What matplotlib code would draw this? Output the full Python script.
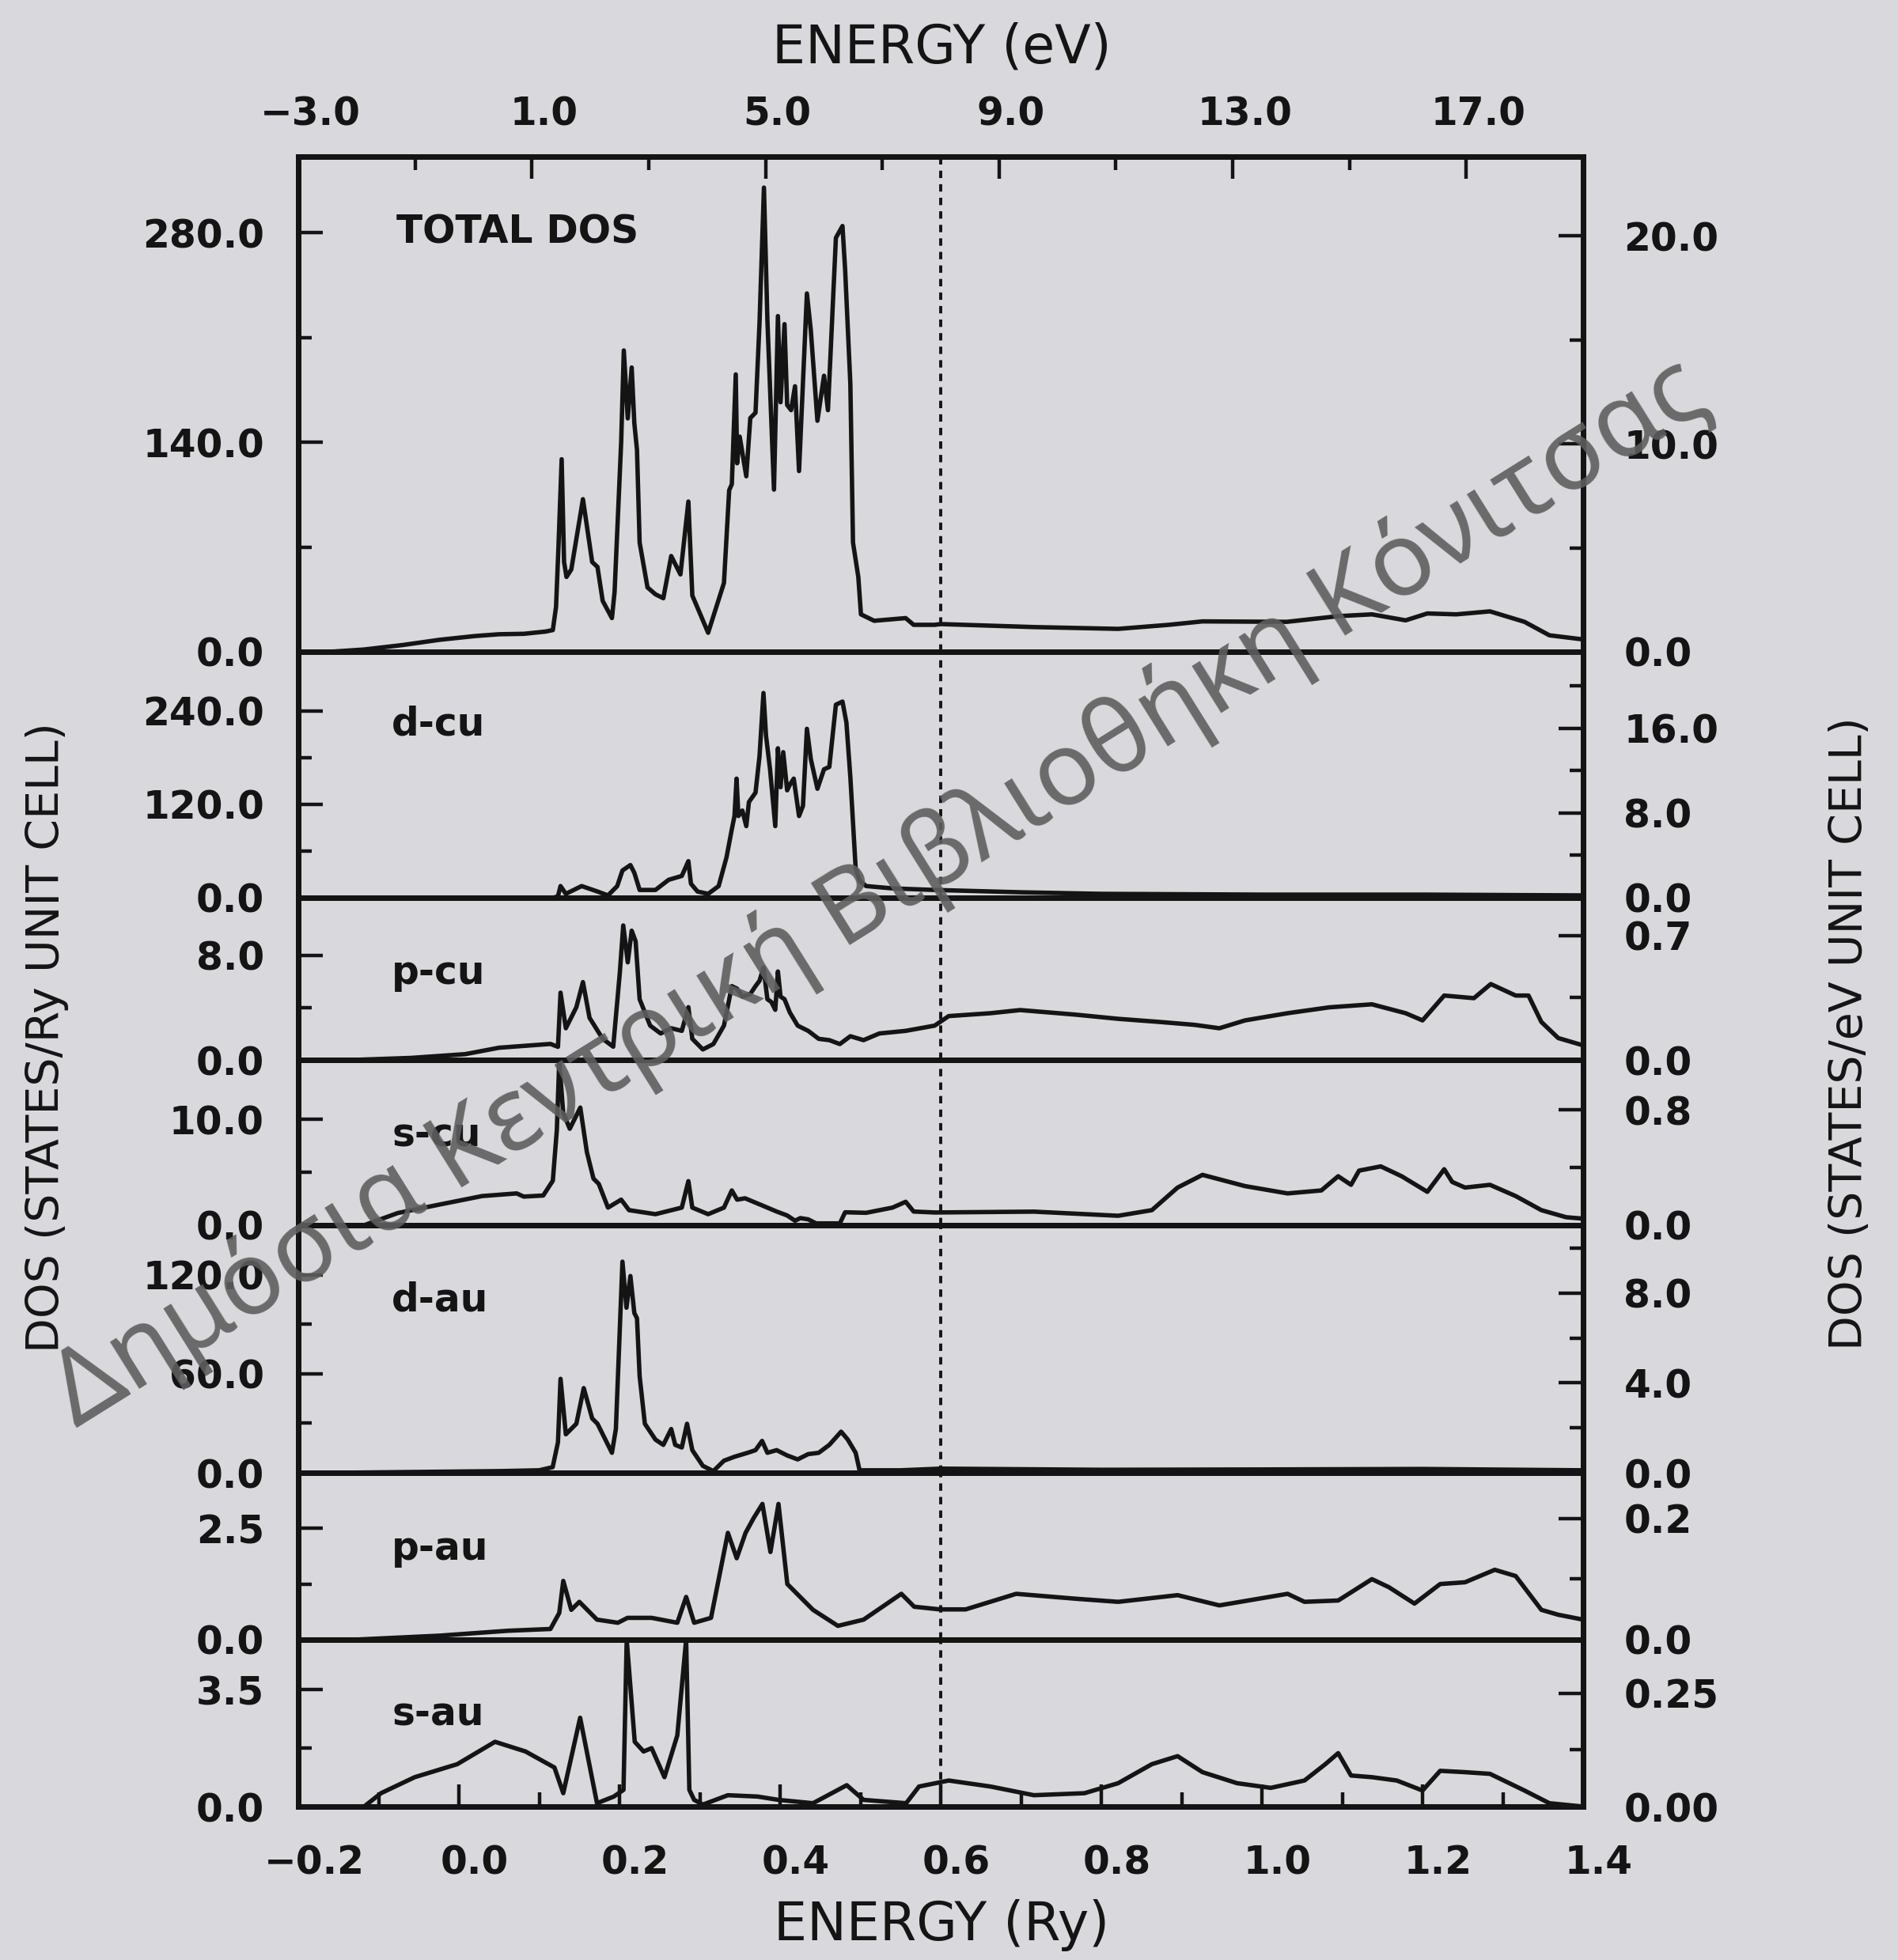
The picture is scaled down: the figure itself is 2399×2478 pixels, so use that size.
import matplotlib
matplotlib.use("Agg")
import matplotlib.pyplot as plt
from matplotlib.transforms import ScaledTranslation
import numpy as np

# ---------------- values (energy in Ry) ----------------
total_ry = [-0.160, -0.118, -0.070, -0.024, 0.020, 0.050, 0.081, 0.108, 0.117, 0.121,
            0.124, 0.128, 0.131, 0.134, 0.140, 0.1545, 0.166, 0.1726, 0.1791, 0.1906,
            0.1939, 0.2021, 0.2054, 0.2103, 0.2152, 0.2185, 0.2218, 0.2251, 0.2349, 0.2448,
            0.2546, 0.2644, 0.2759, 0.2858, 0.2907, 0.3104, 0.3301, 0.3366, 0.3399, 0.3448,
            0.3465, 0.3497, 0.3579, 0.3629, 0.3694, 0.3744, 0.3799, 0.3842, 0.3924, 0.3973,
            0.4006, 0.4055, 0.4088, 0.4137, 0.4186, 0.4236, 0.4334, 0.4383, 0.4465, 0.4547,
            0.4596, 0.4695, 0.4777, 0.4810, 0.4875, 0.4908, 0.4974, 0.5007, 0.5171, 0.5564,
            0.5663, 0.5925, 0.600, 0.716, 0.821, 0.884, 0.926, 1.031, 1.095, 1.137,
            1.179, 1.206, 1.242, 1.284, 1.327, 1.358, 1.396]
total_dos = [0.0, 1.5, 4.5, 8.0, 10.5, 11.7, 12.0, 13.5, 14.5, 30.0,
             70.0, 128.7, 60.0, 50.0, 55.0, 102.0, 60.0, 56.7, 34.0, 22.5,
             40.0, 140.0, 201.4, 156.0, 190.0, 152.7, 135.0, 73.0, 43.0, 38.4,
             35.8, 64.0, 51.7, 100.4, 37.6, 12.7, 46.0, 108.0, 112.0, 185.4,
             126.0, 143.8, 117.3, 156.2, 159.8, 220.0, 310.3, 221.7, 108.4, 224.4,
             166.8, 219.0, 165.0, 161.5, 177.5, 120.8, 239.5, 214.7, 154.4, 184.5,
             161.5, 276.7, 284.6, 255.4, 179.2, 73.0, 50.0, 25.0, 20.7, 22.5,
             18.0, 18.0, 18.5, 16.5, 15.3, 18.0, 20.3, 20.0, 23.8, 25.0,
             21.0, 25.6, 25.0, 27.0, 20.0, 11.0, 8.5]

dcu_ry = [0.118, 0.1234, 0.1266, 0.1332, 0.1529, 0.1726, 0.1857, 0.1972, 0.2037, 0.2136,
          0.2185, 0.2251, 0.2448, 0.2612, 0.2776, 0.2858, 0.2890, 0.2972, 0.3104, 0.3235,
          0.3333, 0.3399, 0.3432, 0.3458, 0.3481, 0.3530, 0.3579, 0.3612, 0.3694, 0.3744,
          0.3793, 0.3825, 0.3875, 0.3940, 0.3973, 0.4006, 0.4039, 0.4088, 0.4121, 0.4170,
          0.4236, 0.4285, 0.4334, 0.4383, 0.4465, 0.4547, 0.4613, 0.4695, 0.4777, 0.4826,
          0.4875, 0.4941, 0.4990, 0.5072, 0.5400, 0.5925, 0.700, 0.800, 1.000, 1.200, 1.400]
dcu_dos = [0.0, 2.0, 15.0, 5.0, 15.0, 8.0, 3.0, 15.0, 35.0, 42.0,
           32.0, 10.0, 10.0, 23.0, 28.0, 47.0, 18.0, 8.0, 5.0, 15.0,
           52.0, 88.0, 105.0, 153.0, 105.0, 112.0, 92.0, 123.0, 135.0, 182.0,
           263.0, 208.0, 165.0, 92.0, 192.0, 142.0, 187.0, 138.0, 145.0, 153.0,
           105.0, 118.0, 217.0, 178.0, 140.0, 165.0, 168.0, 248.0, 252.0, 225.0,
           155.0, 38.0, 22.0, 15.0, 12.0, 10.0, 7.0, 5.0, 4.0, 4.0, 3.0]

pcu_ry = [-0.130, -0.060, 0.008, 0.050, 0.114, 0.1234, 0.1266, 0.1332, 0.1463, 0.1545,
          0.1627, 0.1791, 0.1922, 0.2004, 0.2047, 0.2103, 0.2152, 0.2201, 0.2251, 0.2382,
          0.2513, 0.2644, 0.2776, 0.2858, 0.2907, 0.3038, 0.3169, 0.3301, 0.3399, 0.3465,
          0.3530, 0.3629, 0.3694, 0.3744, 0.3793, 0.3842, 0.3891, 0.3940, 0.3973, 0.4006,
          0.4055, 0.4121, 0.4219, 0.4350, 0.4481, 0.4613, 0.4744, 0.4875, 0.5039, 0.5236,
          0.5564, 0.5925, 0.610, 0.662, 0.699, 0.768, 0.821, 0.873, 0.916, 0.947,
          0.979, 1.032, 1.084, 1.137, 1.179, 1.200, 1.227, 1.264, 1.285, 1.316,
          1.332, 1.348, 1.369, 1.400]
pcu_dos = [0.0, 0.15, 0.44, 0.93, 1.22, 1.0, 5.14, 2.42, 4.03, 5.95,
           3.22, 1.61, 1.01, 6.65, 10.28, 7.46, 9.88, 9.07, 4.64, 2.62,
           2.02, 2.42, 2.22, 4.03, 1.61, 0.80, 1.21, 2.62, 5.64, 5.44,
           4.84, 5.04, 5.64, 6.05, 7.06, 4.64, 4.43, 3.83, 6.76, 4.84,
           4.64, 3.63, 2.62, 2.22, 1.61, 1.51, 1.21, 1.81, 1.51, 2.02,
           2.22, 2.62, 3.35, 3.57, 3.81, 3.46, 3.14, 2.90, 2.68, 2.42,
           3.02, 3.57, 4.02, 4.25, 3.57, 3.02, 4.92, 4.72, 5.80, 4.92,
           4.92, 2.90, 1.67, 1.11]

scu_ry = [-0.118, -0.076, -0.024, 0.029, 0.072, 0.0807, 0.105, 0.117, 0.122, 0.125,
          0.1299, 0.1381, 0.1512, 0.1594, 0.1676, 0.1742, 0.1857, 0.2021, 0.2119, 0.2448,
          0.2776, 0.2858, 0.2907, 0.3104, 0.3301, 0.3399, 0.3465, 0.3563, 0.3760, 0.3957,
          0.4088, 0.4186, 0.4252, 0.4350, 0.4449, 0.4744, 0.4810, 0.5072, 0.5400, 0.5564,
          0.5663, 0.5925, 0.716, 0.821, 0.863, 0.895, 0.926, 0.979, 1.032, 1.074,
          1.095, 1.111, 1.121, 1.148, 1.174, 1.206, 1.227, 1.237, 1.253, 1.284,
          1.316, 1.348, 1.379, 1.400]
scu_dos = [0.0, 1.15, 1.95, 2.75, 3.0, 2.7, 2.8, 4.2, 9.0, 15.5,
           10.6, 9.1, 11.1, 6.9, 4.4, 3.9, 1.66, 2.41, 1.42, 1.04,
           1.66, 4.16, 1.66, 1.04, 1.66, 3.28, 2.41, 2.54, 1.92, 1.29,
           0.92, 0.42, 0.67, 0.55, 0.17, 0.17, 1.22, 1.17, 1.66, 2.21,
           1.29, 1.2, 1.28, 0.89, 1.42, 3.55, 4.75, 3.69, 3.0, 3.28,
           4.62, 3.81, 5.15, 5.55, 4.62, 3.15, 5.28, 4.08, 3.55, 3.81,
           2.75, 1.42, 0.75, 0.62]

dau_ry = [-0.150, -0.050, 0.050, 0.100, 0.1168, 0.1234, 0.1266, 0.1332, 0.1463, 0.1555,
          0.1660, 0.1726, 0.1906, 0.1955, 0.2037, 0.2087, 0.2136, 0.2185, 0.2218, 0.2251,
          0.2316, 0.2448, 0.2546, 0.2644, 0.2694, 0.2776, 0.2841, 0.2907, 0.3038, 0.3169,
          0.3301, 0.3432, 0.3596, 0.3694, 0.3776, 0.3842, 0.3957, 0.4088, 0.4219, 0.4350,
          0.4481, 0.4613, 0.4760, 0.4843, 0.4941, 0.4990, 0.550, 0.600, 0.800, 1.000,
          1.200, 1.400]
dau_dos = [0.0, 0.5, 1.0, 1.5, 3.4, 18.5, 56.9, 23.3, 29.7, 51.3,
           32.9, 29.7, 12.1, 26.5, 127.9, 100.0, 119.2, 96.8, 93.6, 58.5,
           29.7, 20.1, 16.9, 26.5, 16.9, 15.3, 29.7, 13.7, 4.2, 1.0,
           7.3, 9.7, 12.1, 13.7, 19.3, 12.1, 13.7, 10.5, 8.1, 11.3,
           12.1, 16.9, 24.9, 20.1, 12.1, 1.5, 1.5, 2.5, 1.8, 2.0,
           2.3, 1.5]

pau_ry = [-0.130, -0.024, 0.061, 0.114, 0.125, 0.130, 0.140, 0.150, 0.172, 0.198,
          0.210, 0.240, 0.272, 0.283, 0.293, 0.314, 0.335, 0.346, 0.357, 0.367,
          0.378, 0.388, 0.398, 0.409, 0.441, 0.472, 0.504, 0.551, 0.567, 0.599,
          0.631, 0.694, 0.768, 0.821, 0.895, 0.947, 1.032, 1.053, 1.095, 1.137,
          1.158, 1.190, 1.222, 1.253, 1.290, 1.316, 1.348, 1.369, 1.400]
pau_dos = [0.0, 0.09, 0.20, 0.24, 0.60, 1.32, 0.67, 0.85, 0.45, 0.38,
           0.49, 0.49, 0.38, 0.96, 0.38, 0.49, 2.40, 1.83, 2.40, 2.73,
           3.05, 1.97, 3.05, 1.25, 0.67, 0.31, 0.45, 1.03, 0.74, 0.68,
           0.68, 1.03, 0.92, 0.85, 1.00, 0.77, 1.03, 0.85, 0.88, 1.36,
           1.18, 0.81, 1.25, 1.29, 1.57, 1.43, 0.67, 0.56, 0.45]

sau_ry = [-0.118, -0.097, -0.055, -0.002, 0.045, 0.083, 0.119, 0.130, 0.151, 0.172,
          0.193, 0.205, 0.209, 0.219, 0.230, 0.240, 0.256, 0.272, 0.283, 0.287,
          0.293, 0.304, 0.335, 0.372, 0.398, 0.441, 0.483, 0.504, 0.557, 0.573,
          0.610, 0.662, 0.716, 0.779, 0.821, 0.863, 0.895, 0.926, 0.969, 1.011,
          1.053, 1.079, 1.095, 1.111, 1.137, 1.168, 1.200, 1.222, 1.253, 1.284,
          1.327, 1.358, 1.400]
sau_dos = [0.0, 0.40, 0.88, 1.27, 1.94, 1.65, 1.17, 0.40, 2.66, 0.10,
           0.30, 0.50, 5.0, 1.94, 1.65, 1.75, 0.88, 2.13, 5.0, 0.50,
           0.20, 0.06, 0.34, 0.30, 0.20, 0.10, 0.64, 0.20, 0.10, 0.60,
           0.78, 0.60, 0.34, 0.40, 0.70, 1.27, 1.51, 1.03, 0.70, 0.56,
           0.78, 1.27, 1.60, 0.93, 0.88, 0.78, 0.48, 1.07, 1.03, 0.98,
           0.48, 0.10, 0.0]

# labelled ticks: left axis (states/Ry), right axis (states/eV)
total_left, total_right = [0.0, 140.0, 280.0], [0.0, 10.0, 20.0]
dcu_left, dcu_right = [0.0, 120.0, 240.0], [0.0, 8.0, 16.0]
pcu_left, pcu_right = [0.0, 8.0], [0.0, 0.7]
scu_left, scu_right = [0.0, 10.0], [0.0, 0.8]
dau_left, dau_right = [0.0, 60.0, 120.0], [0.0, 4.0, 8.0]
pau_left, pau_right = [0.0, 2.5], [0.0, 0.2]
sau_left, sau_right = [0.0, 3.5], [0.0, 0.25]

ry_ticks = [-0.2, 0.0, 0.2, 0.4, 0.6, 0.8, 1.0, 1.2, 1.4]
ev_ticks = [-3.0, 1.0, 5.0, 9.0, 13.0, 17.0]
e_fermi = 0.6

# ---------------- layout (pixels of the 2399x2478 page) ----------------
W, H = 2399, 2478
X0, X1 = 377, 2001
edges = [198, 824, 1135, 1340, 1549, 1862, 2073, 2284]
INK = "#141414"
PAPER = "#d9d9dd"
TICK_FS = 35
LW_CURVE = 4.0
LW_FRAME = 5.0

# x, y, label, y max, Ry->eV factor of right axis, left ticks, left minor,
# right ticks, right minor, right fmt, label baseline
panels = [
    (total_ry, total_dos, "TOTAL DOS", 331.0, 13.9, total_left, [70, 210], total_right, [5, 15], "%.1f", 308),
    (dcu_ry, dcu_dos, "d-cu", 316.0, 13.6, dcu_left, [60, 180], dcu_right, [4, 12, 20], "%.1f", 929),
    (pcu_ry, pcu_dos, "p-cu", 12.4, 13.6, pcu_left, [4], pcu_right, [0.35], "%.1f", 1244),
    (scu_ry, scu_dos, "s-cu", 15.6, 13.6, scu_left, [5], scu_right, [0.4], "%.1f", 1450),
    (dau_ry, dau_dos, "d-au", 150.0, 13.6, dau_left, [30, 90], dau_right, [2, 6, 10], "%.1f", 1657),
    (pau_ry, pau_dos, "p-au", 3.75, 13.6, pau_left, [1.25], pau_right, [0.1], "%.1f", 1972),
    (sau_ry, sau_dos, "s-au", 5.0, 13.6, sau_left, [1.75], sau_right, [0.125], "%.2f", 2182),
]

plt.rcParams['font.family'] = ['DejaVu Sans']
fig = plt.figure(figsize=(W / 100, H / 100), dpi=100)
fig.patch.set_facecolor(PAPER)


def fmt(v, f="%.1f"):
    # long minus like the plotter font
    return (f % v).replace("-", "\u2212")


def ry2ev(r):
    return (np.asarray(r) + 0.2) * 13.75 - 3.0


def ev2ry(e):
    return (np.asarray(e) + 3.0) / 13.75 - 0.2


def shift_labels(labels, dx_px):
    # the scanned plot sets the energy labels a little right of their ticks
    off = ScaledTranslation(dx_px / 100.0, 0, fig.dpi_scale_trans)
    for lab in labels:
        lab.set_transform(lab.get_transform() + off)


n = len(panels)
for i, (xs, ys, name, ymax, conv, lt, lmin, rt, rmin, rfmt, base) in enumerate(panels):
    top, bot = edges[i], edges[i + 1]
    ax = fig.add_axes([X0 / W, 1 - bot / H, (X1 - X0) / W, (bot - top) / H])
    ax.set_facecolor("none")
    ax.plot(xs, ys, color=INK, lw=LW_CURVE, solid_joinstyle="round")
    ax.axvline(e_fermi, color=INK, lw=2.8, linestyle=(0, (2.4, 2.0)))
    ax.set_xlim(-0.2, 1.4)
    ax.set_ylim(0, ymax)
    for s in ax.spines.values():
        s.set_linewidth(LW_FRAME)
        s.set_color(INK)

    # left axis (states/Ry)
    ax.set_yticks(lt)
    ax.set_yticklabels([fmt(v) for v in lt], fontweight="bold")
    ax.set_yticks(lmin, minor=True)
    ax.tick_params(axis="y", which="major", direction="in", length=22, width=3.2,
                   labelsize=TICK_FS, pad=31, colors=INK)
    ax.tick_params(axis="y", which="minor", direction="in", length=12, width=3.2, colors=INK)

    # right axis (states/eV)
    rax = ax.twinx()
    rax.set_ylim(0, ymax / conv)
    rax.set_yticks(rt)
    rax.set_yticklabels([fmt(v, rfmt) for v in rt], fontweight="bold")
    rax.set_yticks(rmin, minor=True)
    rax.tick_params(axis="y", which="major", direction="in", length=22, width=3.2,
                    labelsize=TICK_FS, pad=37, colors=INK)
    rax.tick_params(axis="y", which="minor", direction="in", length=12, width=3.2, colors=INK)
    for s in rax.spines.values():
        s.set_linewidth(LW_FRAME)
        s.set_color(INK)

    # energy axis only on the outer frame
    if i == n - 1:
        ax.set_xticks(ry_ticks)
        ax.set_xticklabels([fmt(v) for v in ry_ticks], fontweight="bold")
        ax.set_xticks(np.arange(-0.1, 1.35, 0.2), minor=True)
        ax.tick_params(axis="x", which="major", direction="in", length=20, width=3.2,
                       labelsize=TICK_FS, pad=34, colors=INK)
        ax.tick_params(axis="x", which="minor", direction="in", length=13, width=3.2, colors=INK)
        shift_labels(ax.get_xticklabels(), 20)
    else:
        ax.tick_params(axis="x", which="both", bottom=False, labelbottom=False)

    if i == 0:
        sec = ax.secondary_xaxis("top", functions=(ry2ev, ev2ry))
        sec.set_xticks(ev_ticks)
        sec.set_xticklabels([fmt(v) for v in ev_ticks], fontweight="bold")
        sec.set_xticks([-1.0, 3.0, 7.0, 11.0, 15.0], minor=True)
        sec.tick_params(axis="x", which="major", direction="in", length=20, width=3.2,
                        labelsize=TICK_FS, pad=21, colors=INK)
        sec.tick_params(axis="x", which="minor", direction="in", length=12, width=3.2, colors=INK)
        sec.spines["top"].set_linewidth(LW_FRAME)
        shift_labels(sec.get_xticklabels(), 15)

    fig.text((501 if i == 0 else 495) / W, 1 - base / H, name, ha="left", va="baseline",
             fontsize=35, fontweight="bold", color=INK)

# axis titles
fig.text(1190 / W, 1 - 60 / H, "ENERGY (eV)", ha="center", va="center", fontsize=48, color=INK)
fig.text(1190 / W, 1 - 2434 / H, "ENERGY (Ry)", ha="center", va="center", fontsize=48, color=INK)
fig.text(60 / W, 1 - 1312 / H, "DOS (STATES/Ry UNIT CELL)", rotation=90,
         ha="center", va="center", fontsize=41, color=INK)
fig.text(2339 / W, 1 - 1307 / H, "DOS (STATES/eV UNIT CELL)", rotation=90,
         ha="center", va="center", fontsize=41, color=INK)

# library watermark stamped over the scan
fig.text(1112 / W, 1 - 1130 / H, "Δημόσια Κεντρική Βιβλιοθήκη Κόνιτσας", rotation=32,
         rotation_mode="anchor", ha="center", va="center", fontsize=94,
         family=["Noto Sans", "DejaVu Sans"], color="#5e5e5e", alpha=0.9, zorder=20)

fig.savefig("out.png", dpi=100, facecolor=PAPER)
